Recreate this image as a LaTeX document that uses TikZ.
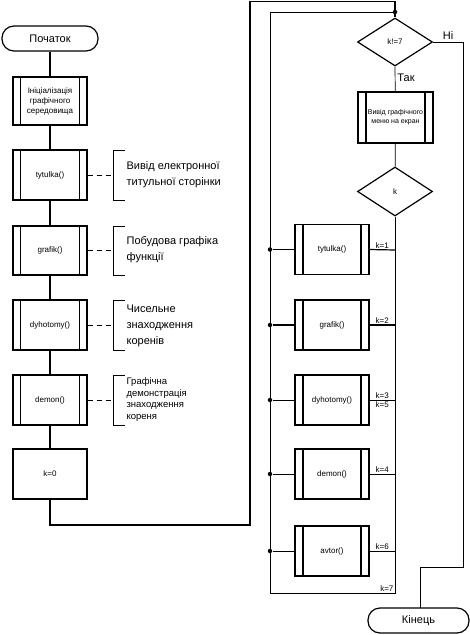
\documentclass[tikz,border=0pt]{standalone}
\usepackage{fontspec}
\setmainfont{Liberation Sans}
\usetikzlibrary{shapes.geometric}

\tikzset{every picture/.style={line width=1.2pt}}
\tikzset{
  term/.style={draw, rounded corners=12pt, minimum width=96pt, minimum height=25pt, inner sep=0pt, font=\fontsize{11}{13}\selectfont},
  plainbox/.style={draw, minimum width=74pt, minimum height=50pt, inner sep=0pt, font=\fontsize{8}{10}\selectfont},
  subbox/.style={plainbox, align=center, path picture={
      \draw ([xshift=7.5pt]path picture bounding box.north west) -- ([xshift=7.5pt]path picture bounding box.south west);
      \draw ([xshift=-7.5pt]path picture bounding box.north east) -- ([xshift=-7.5pt]path picture bounding box.south east);}},
  fatsub/.style={subbox, path picture={
      \draw[line width=1.7pt] ([xshift=8pt]path picture bounding box.north west) -- ([xshift=8pt]path picture bounding box.south west);
      \draw[line width=1.7pt] ([xshift=-8pt]path picture bounding box.north east) -- ([xshift=-8pt]path picture bounding box.south east);}},
  cond/.style={draw, diamond, aspect=1.55, minimum width=75pt, minimum height=48pt, inner sep=0pt, font=\fontsize{8}{10}\selectfont},
  note/.style={anchor=west, align=left, inner sep=0pt, font=\fontsize{11}{16}\selectfont},
  caselbl/.style={anchor=south west, inner sep=1pt, font=\fontsize{8}{9}\selectfont},
  thinline/.style={line width=0.7pt},
  dot/.style={circle, fill, inner sep=0pt, minimum size=4.5pt}
}

\begin{document}
\begin{tikzpicture}[x=1pt,y=1pt,yscale=-1,xscale=1]
\useasboundingbox (0,0) rectangle (470,635);

% Left column
\draw (50,38.5) node [term] (start) {Початок};
\draw (50,101) node [subbox, minimum height=48pt] (init) {Ініціалізація\\графічного\\середовища};
\draw (50,175) node [subbox] (tyt) {tytulka()};
\draw (50,250.5) node [subbox, minimum height=49pt] (graf) {grafik()};
\draw (50,325) node [subbox] (dyh) {dyhotomy()};
\draw (50,400) node [subbox] (dem) {demon()};
\draw (50,474) node [plainbox] (kzero) {k=0};

% Comments
\draw (126,175) node [note] (ntyt) {Вивід електронної\\титульної сторінки};
\draw (126,250) node [note] (ngraf) {Побудова графіка\\функції};
\draw (126,326) node [note] (ndyh) {Чисельне\\знаходження\\коренів};
\draw (126,399.5) node [note, font=\fontsize{9.5}{11.8}\selectfont] (ndem) {Графічна\\демонстрація\\знаходження\\кореня};
\coordinate (btyt) at (113,175);
\coordinate (bgraf) at (113,250.5);
\coordinate (bdyh) at (113,325);
\coordinate (bdem) at (113,400);
\draw[thinline] (125,150) -- (113,150) -- (113,200) -- (125,200);
\draw[thinline] (125,226) -- (113,226) -- (113,275) -- (125,275);
\draw[thinline] (125,300) -- (113,300) -- (113,350) -- (125,350);
\draw[thinline] (125,375) -- (113,375) -- (113,425) -- (125,425);
\draw[thinline, dash pattern=on 5pt off 4pt] (tyt) -- (btyt);
\draw[dash pattern=on 5pt off 4pt] (graf) -- (bgraf);
\draw[thinline, dash pattern=on 5pt off 4pt] (dyh) -- (bdyh);
\draw[thinline, dash pattern=on 5pt off 4pt] (dem) -- (bdem);

% Connections, left column
\draw (start) -- (init);
\draw (init) -- (tyt);
\draw (tyt) -- (graf);
\draw (graf) -- (dyh);
\draw (dyh) -- (dem);
\draw (dem) -- (kzero);

% Right column
\draw (395,42) node [cond] (ne7) {k!=7};
\draw (395.5,117.5) node [fatsub, minimum width=75pt, minimum height=51pt, font=\fontsize{7}{9}\selectfont] (menu) {Вивід графічного\\меню на екран};
\draw (395,191.5) node [cond, minimum height=49pt] (sel) {k};
\draw (332,249.5) node [fatsub] (rtyt) {tytulka()};
\draw (332,325) node [fatsub] (rgraf) {grafik()};
\draw (332,400) node [fatsub] (rdyh) {dyhotomy()};
\draw (332,474) node [fatsub] (rdem) {demon()};
\draw (332,551) node [fatsub] (ravt) {avtor()};
\draw (418.5,620.5) node [term, minimum width=101pt] (end) {Кінець};

\coordinate (top) at (395,12);
\coordinate (bus) at (395,593);
\coordinate (lbot) at (270,593);
\coordinate (ltop) at (270,12);

% Outer return from k=0
\draw (kzero) -- (50,525) -- (250,525) -- (250,1.5) -- (395,1.5) -- (ne7.north);
\draw[thinline] (ne7.south) -- node [pos=0.45, anchor=west, inner sep=2pt, font=\fontsize{11}{13}\selectfont] (yes) {Так} (menu);
\draw[thinline] (menu) -- (sel);
\draw[thinline] (ne7.east) -- node [anchor=south, inner sep=2pt, font=\fontsize{11}{13}\selectfont] (no) {Ні} (463,42) -- (463,567) -- (420,567) -- (420,608);

% Selector bus
\draw[thinline] (sel.south) -- (bus) -- (lbot) -- (ltop) -- (top);
\node [caselbl, anchor=south east] (l7) at (bus) {k=7};
\node [dot] (d0) at (top) {};

% Cases
\draw (rtyt.east) -- node [caselbl, anchor=south] (l1) {k=1} (395,250);
\draw (rgraf.east) -- node [caselbl, anchor=south] (l2) {k=2} (395,325);
\draw[thinline] (rdyh.east) -- node [caselbl, anchor=south] (l3) {k=3} node [caselbl, anchor=north] (l5) {k=5} (395,400);
\draw[thinline] (rdem.east) -- node [caselbl, anchor=south] (l4) {k=4} (395,474);
\draw[thinline] (ravt.east) -- node [caselbl, anchor=south] (l6) {k=6} (395,551);

\node [dot] (d1) at (270,249.5) {};
\node [dot] (d2) at (270,325) {};
\node [dot] (d3) at (270,400) {};
\node [dot] (d4) at (270,474) {};
\node [dot] (d5) at (270,551) {};
\draw (d1) -- (rtyt.west);
\draw (d2) -- (rgraf.west);
\draw[thinline] (d3) -- (rdyh.west);
\draw[thinline] (d4) -- (rdem.west);
\draw[thinline] (d5) -- (ravt.west);

\end{tikzpicture}
\end{document}
